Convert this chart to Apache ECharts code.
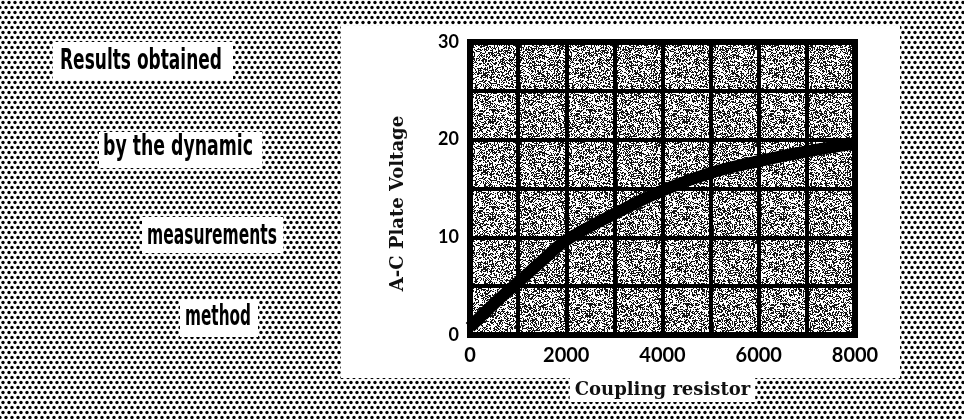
<!DOCTYPE html>
<html>
<head>
<meta charset="utf-8">
<script src="https://cdn.jsdelivr.net/npm/echarts@6/dist/echarts.min.js"></script>
<style>
  html, body { margin: 0; padding: 0; background: #fff; }
  #main { width: 964px; height: 419px; }
</style>
</head>
<body>
<div id="main"></div>
<script>
//耦合电阻 (ohms) 与 交流板极电压
let resistorValues = [0, 500, 1000, 1500, 2000, 3000, 4000, 5000, 6000, 7000, 8000];
let plateVoltage = [0.8, 3.2, 5.4, 7.6, 9.7, 12.4, 14.8, 16.6, 17.8, 18.8, 19.6];
let xLabelStep = 2000;
let yLabelStep = 10;
//左侧说明文字
let captionLines = ['Results obtained', 'by the dynamic', 'measurements', 'method'];

let chart = echarts.init(document.getElementById('main'));

//网点背景 (halftone)
function dotPattern() {
    let c = document.createElement('canvas');
    c.width = 6;
    c.height = 10;
    let ctx = c.getContext('2d');
    ctx.fillStyle = '#fff';
    ctx.fillRect(0, 0, 6, 10);
    ctx.fillStyle = '#000';
    [[3, 2.5], [0, 7.5], [6, 7.5]].forEach(function (p) {
        ctx.beginPath();
        ctx.arc(p[0], p[1], 1.7, 0, Math.PI * 2);
        ctx.fill();
    });
    return c;
}

//方格里的颗粒纹理
function grainPattern() {
    let n = 97;
    let c = document.createElement('canvas');
    c.width = n;
    c.height = n;
    let ctx = c.getContext('2d');
    let img = ctx.createImageData(n, n);
    for (let y = 0; y < n; y++) {
        for (let x = 0; x < n; x++) {
            let h = Math.sin(x * 12.9898 + y * 78.233) * 43758.5453;
            h = h - Math.floor(h);
            let v = h < 0.46 ? 20 : 255;
            let k = (y * n + x) * 4;
            img.data[k] = img.data[k + 1] = img.data[k + 2] = v;
            img.data[k + 3] = 255;
        }
    }
    ctx.putImageData(img, 0, 0);
    return c;
}

//左侧文字：宽度按原图压扁
let captionFont = 'bold 28px "DejaVu Sans Condensed", "DejaVu Sans"';
let captionBoxes = [
    {x: 53, y: 42, w: 180, h: 38, left: 60, width: 162, mid: 62},
    {x: 99, y: 132, w: 163, h: 36, left: 103, width: 150, mid: 148},
    {x: 142, y: 217, w: 141, h: 36, left: 147, width: 130, mid: 237},
    {x: 180, y: 300, w: 78, h: 37, left: 185, width: 66, mid: 318}
];
let measureCtx = document.createElement('canvas').getContext('2d');
measureCtx.font = captionFont;

let graphics = [
    {
        type: 'rect', z: -100, silent: true,
        shape: {x: 0, y: 0, width: 964, height: 419},
        style: {fill: {image: dotPattern(), repeat: 'repeat'}}
    },
    {
        type: 'rect', z: -90, silent: true,
        shape: {x: 341, y: 26, width: 559, height: 352},
        style: {fill: '#fff'}
    }
];
captionLines.forEach(function (t, i) {
    let b = captionBoxes[i];
    graphics.push({
        type: 'rect', z: -90, silent: true,
        shape: {x: b.x, y: b.y, width: b.w, height: b.h},
        style: {fill: '#fff'}
    });
    graphics.push({
        type: 'text', z: -80, silent: true,
        x: b.left, y: b.mid,
        scaleX: b.width / measureCtx.measureText(t).width,
        style: {
            text: t,
            fill: '#000',
            font: captionFont,
            textAlign: 'left',
            textVerticalAlign: 'middle'
        }
    });
});

let option = {
    backgroundColor: '#fff',
    animation: false,
    graphic: graphics,
    grid: {
        left: 470,
        right: 109,
        top: 42,
        bottom: 84,
        show: true,
        backgroundColor: {image: grainPattern(), repeat: 'repeat'},
        borderColor: '#000',
        borderWidth: 6
    },
    xAxis: {
        type: 'value',
        min: 0,
        max: 8000,
        interval: 1000,
        name: 'Coupling resistor',
        nameLocation: 'middle',
        nameGap: 43,
        nameTextStyle: {
            fontFamily: '"DejaVu Serif"',
            fontWeight: 'bold',
            fontSize: 18,
            color: '#111',
            backgroundColor: '#fff',
            padding: [3, 5, 3, 5]
        },
        axisLine: {lineStyle: {color: '#000', width: 5}},
        axisTick: {show: false},
        axisLabel: {
            margin: 11,
            fontFamily: 'Lato',
            fontWeight: 'bold',
            fontSize: 20,
            color: '#000',
            formatter: function (v) {
                return v % xLabelStep === 0 ? v : '';
            }
        },
        splitLine: {lineStyle: {color: '#000', width: 4}}
    },
    yAxis: {
        type: 'value',
        min: 0,
        max: 30,
        interval: 5,
        name: 'A-C Plate Voltage',
        nameLocation: 'middle',
        nameGap: 63,
        nameTextStyle: {
            fontFamily: '"DejaVu Serif"',
            fontWeight: 'bold',
            fontSize: 18,
            color: '#111',
            padding: [0, 30, 0, 0]
        },
        axisLine: {show: true, lineStyle: {color: '#000', width: 5}},
        axisTick: {show: false},
        axisLabel: {
            margin: 11,
            fontFamily: 'Lato',
            fontWeight: 'bold',
            fontSize: 18,
            color: '#000',
            formatter: function (v) {
                return v % yLabelStep === 0 ? v : '';
            }
        },
        splitLine: {lineStyle: {color: '#000', width: 4}}
    },
    series: [
        {
            type: 'line',
            smooth: 0.4,
            showSymbol: false,
            data: resistorValues.map(function (r, i) {
                return [r, plateVoltage[i]];
            }),
            lineStyle: {color: '#000', width: 12, cap: 'butt'},
            z: 5
        }
    ]
};

chart.setOption(option);
</script>
</body>
</html>
